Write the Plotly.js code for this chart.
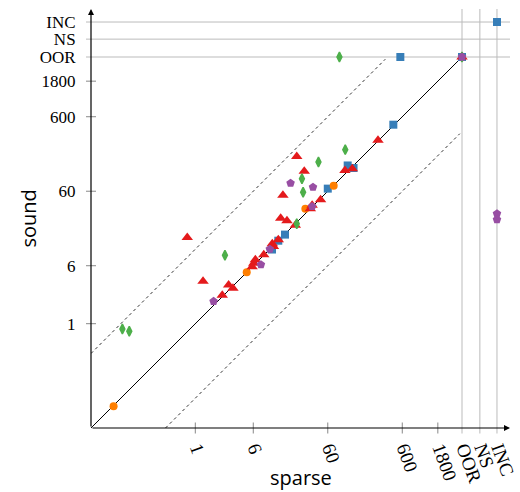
<!DOCTYPE html>
<html>
<head>
<meta charset="utf-8">
<script src="https://cdn.plot.ly/plotly-3.0.1.min.js"></script>
<style>html,body{margin:0;padding:0;background:#fff;}#chart{width:520px;height:492px;}</style>
</head>
<body>
<div id="chart"></div>
<script>
// Special category positions (sentinel values on the log axes)
const OOR = 3800, NS = 6600, INC = 11200;
const ORIGIN = Math.pow(10, -1.4);

const tickVals = [1, 6, 60, 600, 1800, OOR, NS, INC];
const tickText = ['1', '6', '60', '600', '1800', 'OOR', 'NS', 'INC'];

// Series (sparse = x, sound = y)
const redX = [283, 23, 29, 102, 128, 15, 48, 37, 35, 14, 17, 22, 13, 11.2, 10.8, 8.3, 6.4, 6.1, 5.8, 0.78, 1.27, 2.8, 3.2, 2.3, OOR];
const redY = [290, 176, 111, 114, 120, 53, 46, 39, 35, 26, 24, 21, 13.4, 10.9, 11.8, 8.4, 7.2, 6.5, 5.8, 14.4, 3.7, 3.3, 3.0, 2.4, OOR];

const greenX = [86, 103, 45, 27, 28, 23, 2.5, 0.105, 0.13, OOR];
const greenY = [OOR, 217, 148, 88, 58, 22, 8.3, 0.85, 0.79, OOR];

const blueX = [INC, 565, OOR, 455, 111, 133, 60, 16, 13, 10.7];
const blueY = [INC, OOR, OOR, 469, 133, 123, 65, 15.7, 13, 9.9];

const orangeX = [72, 30, 4.9, 0.08];
const orangeY = [71, 35, 4.9, 0.078];

const purpleX = [OOR, INC, INC, 19, 38, 37, 10, 7.6, 1.76];
const purpleY = [OOR, 30, 25, 77, 68, 37.5, 10, 6.2, 2.0];

// Reference lines: y = x, y = 10x, y = x/10
const diagX = [ORIGIN, OOR];
const upperX = [ORIGIN, 355];
const lowerX = [ORIGIN * 10, 3550];

const traces = [
  {x: diagX, y: diagX, mode: 'lines', line: {color: '#000', width: 1}, hoverinfo: 'skip', showlegend: false},
  {x: upperX, y: upperX.map(v => v * 10), mode: 'lines', line: {color: '#333', width: 1, dash: 'dot'}, hoverinfo: 'skip', showlegend: false},
  {x: lowerX, y: lowerX.map(v => v / 10), mode: 'lines', line: {color: '#333', width: 1, dash: 'dot'}, hoverinfo: 'skip', showlegend: false},
  {x: blueX, y: blueY, mode: 'markers', marker: {symbol: 'square', size: 8, color: '#377eb8'}, showlegend: false, cliponaxis: false},
  {x: orangeX, y: orangeY, mode: 'markers', marker: {symbol: 'circle', size: 8, color: '#ff7f00'}, showlegend: false, cliponaxis: false},
  {x: redX, y: redY, mode: 'markers', marker: {symbol: 'triangle-up', size: 10, color: '#e41a1c'}, showlegend: false, cliponaxis: false},
  {x: greenX, y: greenY, mode: 'markers', marker: {symbol: 'diamond-tall', size: 7, color: '#4daf4a', line: {color: '#4daf4a', width: 1.5}}, showlegend: false, cliponaxis: false},
  {x: purpleX, y: purpleY, mode: 'markers', marker: {symbol: 'pentagon', size: 9, color: '#984ea3'}, showlegend: false, cliponaxis: false}
];

const PLOT = 419;
const shapes = [];
// grid lines for special categories
[OOR, NS, INC].forEach(v => {
  shapes.push({type: 'line', xref: 'x', yref: 'paper', x0: v, x1: v, y0: -5.5 / PLOT, y1: 1, line: {color: '#bbb', width: 1}, layer: 'below'});
  shapes.push({type: 'line', xref: 'paper', yref: 'y', x0: -5 / PLOT, x1: 1, y0: v, y1: v, line: {color: '#bbb', width: 1}, layer: 'below'});
});
// tick marks crossing the axes
[1, 6, 60, 600, 1800].forEach(v => {
  shapes.push({type: 'line', xref: 'x', yref: 'paper', x0: v, x1: v, y0: -5.5 / PLOT, y1: 5.5 / PLOT, line: {color: '#888', width: 1}});
  shapes.push({type: 'line', xref: 'paper', yref: 'y', x0: -5 / PLOT, x1: 5 / PLOT, y0: v, y1: v, line: {color: '#888', width: 1}});
});

const axisCommon = {
  type: 'log', range: [-1.4, 4.224], showgrid: false, zeroline: false, showline: false,
  tickvals: tickVals, ticktext: tickText, ticks: 'outside', tickcolor: 'rgba(0,0,0,0)',
  fixedrange: true
};

const layout = {
  width: 520, height: 492,
  margin: {l: 91, r: 10, t: 9, b: 64},
  paper_bgcolor: '#fff', plot_bgcolor: '#fff',
  xaxis: Object.assign({}, axisCommon, {tickangle: 70, ticklen: 1, ticklabelshift: 3,
    tickfont: {family: 'Liberation Serif, DejaVu Serif, serif', size: 19, color: '#000'}}),
  yaxis: Object.assign({}, axisCommon, {ticklen: 11,
    tickfont: {family: 'Liberation Serif, DejaVu Serif, serif', size: 17, color: '#000'}}),
  shapes: shapes,
  annotations: [
    {xref: 'paper', yref: 'paper', x: 1, y: 0, ax: -PLOT, ay: 0, text: '', showarrow: true, arrowhead: 2, arrowsize: 1, arrowwidth: 1.2, arrowcolor: '#000'},
    {xref: 'paper', yref: 'paper', x: 0, y: 1, ax: 0, ay: PLOT, text: '', showarrow: true, arrowhead: 2, arrowsize: 1, arrowwidth: 1.2, arrowcolor: '#000'},
    {xref: 'paper', yref: 'paper', x: 0.5, y: (428 - 477) / PLOT, text: 'sparse', showarrow: false, xanchor: 'center', yanchor: 'middle', font: {family: 'Open Sans, sans-serif', size: 20, color: '#000'}},
    {xref: 'paper', yref: 'paper', x: (28 - 91) / PLOT, y: 0.5, text: 'sound', textangle: -90, showarrow: false, xanchor: 'center', yanchor: 'middle', font: {family: 'Open Sans, sans-serif', size: 20, color: '#000'}}
  ]
};

Plotly.newPlot('chart', traces, layout, {displayModeBar: false, staticPlot: true});
</script>
</body>
</html>
